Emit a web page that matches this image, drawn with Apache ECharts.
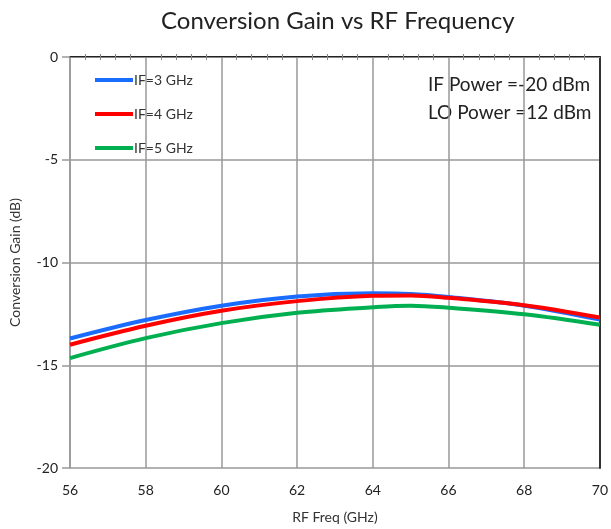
<!DOCTYPE html>
<html><head><meta charset="utf-8">
<script src="https://cdn.jsdelivr.net/npm/echarts@6/dist/echarts.min.js"></script>
<style>html,body{margin:0;padding:0;background:#fff}#c{width:611px;height:529px}</style>
</head><body><div id="c"></div>
<script>
const freqs = [56, 58, 60, 62, 64, 65, 66, 68, 70];
const if3 = [-13.7, -12.8, -12.1, -11.65, -11.5, -11.53, -11.68, -12.1, -12.78];
const if4 = [-14.0, -13.08, -12.35, -11.88, -11.62, -11.6, -11.72, -12.08, -12.68];
const if5 = [-14.65, -13.68, -12.95, -12.45, -12.18, -12.1, -12.2, -12.52, -13.03];
const seriesNames = ['IF=3 GHz', 'IF=4 GHz', 'IF=5 GHz'];
const colors = ['#1a6cff', '#ff0000', '#00b050'];
const notes = ['IF Power =-20 dBm', 'LO Power =12 dBm'];
const xTicks = [56, 58, 60, 62, 64, 66, 68, 70];
const yTicks = [0, -5, -10, -15, -20];

const FONT = 'Lato';
const chart = echarts.init(document.getElementById('c'));
const toPairs = arr => freqs.map((f, i) => [f, arr[i]]);
const allSeries = [if3, if4, if5].map((d, i) => ({
  name: seriesNames[i], type: 'line', data: toPairs(d), smooth: 0.35,
  showSymbol: false, symbol: 'none', lineStyle: { width: 4, color: colors[i] },
  itemStyle: { color: colors[i] }, xAxisIndex: 0, yAxisIndex: 0
}));

chart.setOption({
  animation: false,
  title: { text: 'Conversion Gain vs RF Frequency', left: 156, top: 4,
    textStyle: { fontFamily: FONT, fontSize: 24, fontWeight: 'normal', color: '#222' } },
  grid: { left: 70, right: 10, top: 57, bottom: 61 },
  legend: { orient: 'vertical', left: 90, top: 68, itemWidth: 38, itemHeight: 4, itemGap: 20,
    icon: 'rect', data: seriesNames,
    textStyle: { fontFamily: FONT, fontSize: 14, color: '#333', padding: [0, 0, 0, -4] } },
  xAxis: [{
    type: 'value', min: xTicks[0], max: xTicks[xTicks.length - 1], interval: 2,
    name: 'RF Freq (GHz)', nameLocation: 'middle', nameGap: 42,
    nameTextStyle: { fontFamily: FONT, fontSize: 14, color: '#333' },
    axisLine: { show: true, lineStyle: { color: '#222', width: 2 } },
    axisTick: { show: false },
    axisLabel: { fontFamily: FONT, fontSize: 14, color: '#222', margin: 15 },
    splitLine: { show: true, lineStyle: { color: '#999', width: 1.5 } }
  }, {
    type: 'value', position: 'top', min: xTicks[0], max: xTicks[xTicks.length - 1], interval: 2,
    axisLine: { show: true, lineStyle: { color: '#888', width: 1 } },
    axisTick: { show: false, inside: false },
    minorTick: { show: true, splitNumber: 5, length: 3, lineStyle: { color: '#888' } },
    axisLabel: { show: false }, splitLine: { show: false }
  }, {
    type: 'value', position: 'top', min: xTicks[0], max: xTicks[xTicks.length - 1], interval: 2,
    axisLine: { show: false },
    axisTick: { show: false, inside: true },
    minorTick: { show: true, splitNumber: 5, length: 3, lineStyle: { color: '#888' } },
    axisLabel: { show: false }, splitLine: { show: false }
  }],
  yAxis: [{
    type: 'value', min: -20, max: 0, interval: 5,
    name: 'Conversion Gain (dB)', nameLocation: 'middle', nameGap: 48,
    nameTextStyle: { fontFamily: FONT, fontSize: 14, color: '#333' },
    axisLine: { show: true, lineStyle: { color: '#999', width: 1.5 } },
    axisTick: { show: true, length: 8, lineStyle: { color: '#999', width: 1.5 } },
    axisLabel: { fontFamily: FONT, fontSize: 14, color: '#222', margin: 12 },
    splitLine: { show: true, lineStyle: { color: '#999', width: 1.5 } }
  }, {
    type: 'value', position: 'right', min: -20, max: 0, interval: 5,
    axisLine: { show: true, lineStyle: { color: '#333', width: 2 } },
    axisTick: { show: false }, axisLabel: { show: false }, splitLine: { show: false }
  }],
  graphic: notes.map((t, i) => ({
    type: 'text', left: 428, top: 75 + i * 28,
    style: { text: t, font: '19px ' + FONT, fill: '#222' }
  })),
  series: allSeries
});
</script></body></html>
